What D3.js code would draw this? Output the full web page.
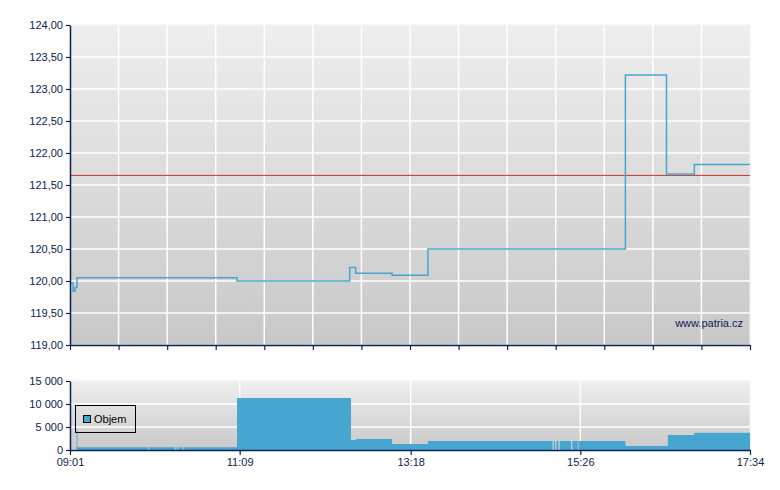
<!DOCTYPE html>
<html><head><meta charset="utf-8">
<script src="https://cdn.jsdelivr.net/npm/d3@7"></script>
<style>body{margin:0;background:#fff}svg{display:block}text{font-family:"Liberation Sans",Arial,sans-serif}</style>
</head><body><svg id="c" width="780" height="490"></svg>
<script>
// minutes after 09:01, price (CZK)
const priceTimes = [0, 2.3, 3.8, 5.3, 126, 211, 215.5, 243, 270, 419, 450, 471, 513];
const priceValues = [119.97, 119.84, 119.9, 120.05, 120.00, 120.21, 120.12, 120.09, 120.50, 123.22, 121.67, 121.82, 121.82];
const refPrice = 121.65;
// volume step segments: start minute, value
const volTimes = [0, 5, 5.6, 59, 59.8, 79, 79.8, 81, 81.7, 85, 85.7, 126, 212, 216, 243, 270, 364, 365, 366, 367, 368.5, 369.5, 378, 379, 383, 383.6, 419, 451, 471, 513];
const volValues = [0, 4500, 600, 0, 600, 0, 600, 0, 600, 0, 600, 11300, 2170, 2390, 1300, 1960, 0, 1960, 0, 1960, 0, 1960, 0, 1960, 0, 1960, 870, 3260, 3770, 3770];
const priceTicks = [119, 119.5, 120, 120.5, 121, 121.5, 122, 122.5, 123, 123.5, 124];
const volTicks = [0, 5000, 10000, 15000];
const timeLabels = ["09:01", "11:09", "13:18", "15:26", "17:34"];
const timeLabelMinutes = [0, 128, 257, 385, 513];

const svg = d3.select("#c");
const L = 70, R = 750;
const navy = "#0b2353", lineCol = "#46a6cf";
const x = d3.scaleLinear().domain([0, 513]).range([L, R]);
const yP = d3.scaleLinear().domain([119, 124]).range([345, 25]);
const yV = d3.scaleLinear().domain([0, 15000]).range([450, 381]);
const fmtP = v => d3.format(".2f")(v).replace(".", ",");
const fmtV = v => d3.format(",")(v).replace(/,/g, " ");

const defs = svg.append("defs");
const g1 = defs.append("linearGradient").attr("id", "gp").attr("x1", 0).attr("y1", 0).attr("x2", 0).attr("y2", 1);
g1.append("stop").attr("offset", 0).attr("stop-color", "#eeeeee");
g1.append("stop").attr("offset", 1).attr("stop-color", "#c8c8c8");
const g2 = defs.append("linearGradient").attr("id", "gv").attr("x1", 0).attr("y1", 0).attr("x2", 0).attr("y2", 1);
g2.append("stop").attr("offset", 0).attr("stop-color", "#eeeeee");
g2.append("stop").attr("offset", 1).attr("stop-color", "#c9c9c9");

// price panel
svg.append("rect").attr("x", L).attr("y", 25).attr("width", R - L).attr("height", 320).attr("fill", "url(#gp)").attr("stroke", "#f4f4f4");
const gridX = d3.range(0, 15).map(i => 513 * i / 14);
svg.append("g").selectAll("line").data(gridX.slice(1, -1)).join("line")
  .attr("x1", d => x(d)).attr("x2", d => x(d)).attr("y1", 25).attr("y2", 345)
  .attr("stroke", "#fff").attr("stroke-width", 1.5);
svg.append("g").selectAll("line").data(priceTicks.slice(1, -1)).join("line")
  .attr("x1", L).attr("x2", R).attr("y1", d => yP(d)).attr("y2", d => yP(d))
  .attr("stroke", "#fff").attr("stroke-width", 1.5);

svg.append("line").attr("x1", L).attr("x2", R).attr("y1", yP(refPrice)).attr("y2", yP(refPrice)).attr("stroke", "#c83232").attr("stroke-width", 1);

const pl = d3.line().x(d => x(d[0])).y(d => yP(d[1])).curve(d3.curveStepAfter);
svg.append("path").datum(priceTimes.map((t, i) => [t, priceValues[i]])).attr("d", pl)
  .attr("fill", "none").attr("stroke", lineCol).attr("stroke-width", 1.5);

const ayP = svg.append("g").attr("transform", `translate(${L},0)`).call(d3.axisLeft(yP).tickValues(priceTicks).tickFormat(fmtP).tickSize(4).tickSizeOuter(0));
const axP = svg.append("g").attr("transform", "translate(0,345)").call(d3.axisBottom(x).tickValues(gridX).tickFormat("").tickSize(5).tickSizeOuter(0));
[ayP, axP].forEach(a => {
  a.select(".domain").attr("stroke", navy).attr("stroke-width", 1.5);
  a.selectAll(".tick line").attr("stroke", navy).attr("stroke-width", 1.2);
  a.selectAll("text").attr("fill", navy).attr("font-size", 11).attr("font-family", "Liberation Sans, Arial, sans-serif");
});
ayP.selectAll("text").attr("x", -7);

svg.append("text").attr("x", 743).attr("y", 327).attr("text-anchor", "end").attr("fill", navy).attr("font-size", 11).text("www.patria.cz");

// volume panel
svg.append("rect").attr("x", L).attr("y", 381).attr("width", R - L).attr("height", 69).attr("fill", "url(#gv)").attr("stroke", "#f4f4f4");
svg.append("g").selectAll("line").data(timeLabelMinutes.slice(1, -1)).join("line")
  .attr("x1", d => x(d)).attr("x2", d => x(d)).attr("y1", 381).attr("y2", 450)
  .attr("stroke", "#fff").attr("stroke-width", 1.5);
svg.append("g").selectAll("line").data(volTicks.slice(1, -1)).join("line")
  .attr("x1", L).attr("x2", R).attr("y1", d => yV(d)).attr("y2", d => yV(d))
  .attr("stroke", "#fff").attr("stroke-width", 1.5);

const va = d3.area().x(d => x(d[0])).y0(yV(0)).y1(d => yV(d[1])).curve(d3.curveStepAfter);
svg.append("path").datum(volTimes.map((t, i) => [t, volValues[i]])).attr("d", va).attr("fill", "#46a6cf");

const ayV = svg.append("g").attr("transform", `translate(${L},0)`).call(d3.axisLeft(yV).tickValues(volTicks).tickFormat(fmtV).tickSize(4).tickSizeOuter(0));
const axV = svg.append("g").attr("transform", "translate(0,450)").call(d3.axisBottom(x).tickValues(timeLabelMinutes).tickFormat((d, i) => timeLabels[i]).tickSize(5).tickSizeOuter(0));
[ayV, axV].forEach(a => {
  a.select(".domain").attr("stroke", navy).attr("stroke-width", 1.5);
  a.selectAll(".tick line").attr("stroke", navy).attr("stroke-width", 1.2);
  a.selectAll("text").attr("fill", navy).attr("font-size", 11).attr("font-family", "Liberation Sans, Arial, sans-serif");
});
ayV.selectAll("text").attr("x", -7);
axV.selectAll("text").attr("y", 8);

// legend
const lg = svg.append("g");
lg.append("rect").attr("x", 75.5).attr("y", 405.5).attr("width", 60).attr("height", 27).attr("fill", "none").attr("stroke", "#000");
lg.append("rect").attr("x", 83.5).attr("y", 415.5).attr("width", 7).attr("height", 7).attr("fill", "#46a6cf").attr("stroke", "#000");
lg.append("text").attr("x", 94).attr("y", 423).attr("font-size", 11).attr("fill", "#000").text("Objem");
</script></body></html>
